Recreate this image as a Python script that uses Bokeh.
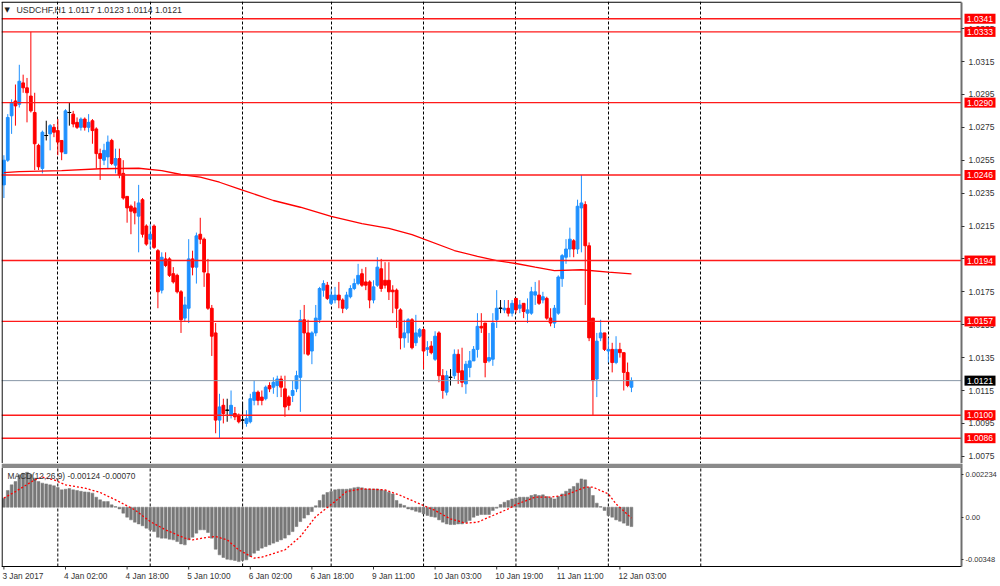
from bokeh.plotting import figure
from bokeh.models import Range1d, FixedTicker, Label, PrintfTickFormatter, BoxAnnotation
from bokeh.layouts import column
from bokeh.embed import file_html
from bokeh.resources import INLINE
from bokeh.core.properties import value

symbol = "USDCHF,H1"

opens = [1.0240,1.0255,1.0282,1.0291,1.0289,1.0302,1.0299,1.0294,1.0284,1.0264,
         1.0250,1.0270,1.0271,1.0275,1.0273,1.0267,1.0259,1.0284,1.0283,1.0278,
         1.0275,1.0280,1.0275,1.0279,1.0274,1.0259,1.0255,1.0257,1.0267,1.0252,
         1.0256,1.0247,1.0233,1.0227,1.0226,1.0221,1.0231,1.0215,1.0207,1.0215,
         1.0200,1.0176,1.0195,1.0195,1.0186,1.0185,1.0175,1.0159,1.0165,1.0195,
         1.0190,1.0210,1.0207,1.0186,1.0165,1.0150,1.0097,1.0106,1.0103,1.0100,
         1.0101,1.0100,1.0097,1.0095,1.0096,1.0109,1.0114,1.0111,1.0110,1.0118,
         1.0117,1.0118,1.0122,1.0116,1.0111,1.0112,1.0116,1.0123,1.0158,1.0150,
         1.0139,1.0150,1.0158,1.0176,1.0179,1.0168,1.0170,1.0173,1.0170,1.0165,
         1.0172,1.0177,1.0180,1.0186,1.0181,1.0181,1.0170,1.0179,1.0189,1.0182,
         1.0182,1.0176,1.0176,1.0164,1.0147,1.0150,1.0158,1.0144,1.0148,1.0152,
         1.0140,1.0142,1.0134,1.0150,1.0124,1.0114,1.0123,1.0124,1.0137,1.0127,
         1.0119,1.0129,1.0133,1.0140,1.0154,1.0156,1.0133,1.0134,1.0158,1.0165,
         1.0164,1.0165,1.0162,1.0171,1.0165,1.0168,1.0162,1.0162,1.0173,1.0173,
         1.0170,1.0171,1.0159,1.0156,1.0162,1.0183,1.0196,1.0201,1.0206,1.0201,
         1.0226,1.0228,1.0203,1.0159,1.0122,1.0147,1.0150,1.0139,1.0140,1.0132,
         1.0140,1.0138,1.0126,1.0117]
highs = [1.0258,1.0283,1.0292,1.0301,1.0313,1.0307,1.0305,1.0333,1.0296,1.0265,
         1.0273,1.0279,1.0277,1.0277,1.0280,1.0267,1.0286,1.0290,1.0285,1.0281,
         1.0281,1.0281,1.0283,1.0280,1.0275,1.0262,1.0265,1.0270,1.0268,1.0262,
         1.0262,1.0255,1.0233,1.0228,1.0230,1.0240,1.0232,1.0216,1.0216,1.0216,
         1.0201,1.0199,1.0199,1.0196,1.0190,1.0186,1.0176,1.0172,1.0207,1.0200,
         1.0211,1.0220,1.0208,1.0195,1.0167,1.0156,1.0113,1.0110,1.0110,1.0115,
         1.0105,1.0101,1.0108,1.0103,1.0113,1.0121,1.0115,1.0115,1.0118,1.0120,
         1.0123,1.0124,1.0124,1.0124,1.0112,1.0121,1.0127,1.0164,1.0167,1.0158,
         1.0151,1.0167,1.0178,1.0182,1.0181,1.0177,1.0178,1.0181,1.0171,1.0175,
         1.0179,1.0183,1.0192,1.0189,1.0190,1.0182,1.0182,1.0196,1.0195,1.0193,
         1.0193,1.0179,1.0177,1.0165,1.0158,1.0159,1.0159,1.0161,1.0153,1.0153,
         1.0145,1.0145,1.0151,1.0151,1.0128,1.0127,1.0128,1.0140,1.0140,1.0141,
         1.0133,1.0139,1.0142,1.0162,1.0162,1.0156,1.0150,1.0162,1.0176,1.0170,
         1.0170,1.0170,1.0170,1.0171,1.0170,1.0168,1.0171,1.0178,1.0181,1.0182,
         1.0175,1.0172,1.0165,1.0167,1.0185,1.0198,1.0207,1.0214,1.0207,1.0231,
         1.0246,1.0230,1.0205,1.0159,1.0150,1.0158,1.0150,1.0147,1.0144,1.0148,
         1.0144,1.0138,1.0132,1.0123]
lows = [1.0232,1.0254,1.0271,1.0276,1.0287,1.0296,1.0278,1.0284,1.0249,1.0249,
        1.0247,1.0267,1.0261,1.0269,1.0258,1.0255,1.0259,1.0276,1.0275,1.0274,
        1.0273,1.0273,1.0272,1.0265,1.0250,1.0243,1.0252,1.0250,1.0252,1.0247,
        1.0244,1.0231,1.0217,1.0210,1.0216,1.0199,1.0208,1.0203,1.0201,1.0201,
        1.0165,1.0174,1.0190,1.0184,1.0180,1.0174,1.0150,1.0157,1.0156,1.0185,
        1.0180,1.0204,1.0178,1.0164,1.0136,1.0089,1.0086,1.0095,1.0096,1.0098,
        1.0097,1.0095,1.0092,1.0093,1.0095,1.0106,1.0106,1.0106,1.0109,1.0114,
        1.0113,1.0111,1.0111,1.0099,1.0103,1.0108,1.0114,1.0102,1.0137,1.0136,
        1.0131,1.0148,1.0156,1.0172,1.0170,1.0167,1.0168,1.0165,1.0162,1.0164,
        1.0171,1.0176,1.0179,1.0178,1.0176,1.0165,1.0168,1.0178,1.0175,1.0177,
        1.0170,1.0162,1.0153,1.0140,1.0141,1.0144,1.0140,1.0142,1.0147,1.0128,
        1.0136,1.0137,1.0133,1.0120,1.0110,1.0112,1.0118,1.0122,1.0119,1.0117,
        1.0113,1.0123,1.0133,1.0135,1.0150,1.0123,1.0132,1.0130,1.0153,1.0162,
        1.0162,1.0160,1.0160,1.0162,1.0162,1.0159,1.0156,1.0161,1.0167,1.0167,
        1.0168,1.0158,1.0154,1.0153,1.0161,1.0178,1.0192,1.0196,1.0196,1.0198,
        1.0199,1.0167,1.0145,1.0100,1.0111,1.0145,1.0139,1.0132,1.0126,1.0131,
        1.0135,1.0115,1.0117,1.0114]
closes = [1.0255,1.0281,1.0290,1.0288,1.0303,1.0299,1.0296,1.0285,1.0265,1.0251,
          1.0272,1.0270,1.0276,1.0272,1.0266,1.0260,1.0285,1.0284,1.0277,1.0275,
          1.0280,1.0275,1.0278,1.0273,1.0259,1.0256,1.0261,1.0266,1.0253,1.0256,
          1.0246,1.0232,1.0226,1.0224,1.0223,1.0229,1.0210,1.0204,1.0210,1.0202,
          1.0175,1.0196,1.0191,1.0185,1.0181,1.0175,1.0158,1.0167,1.0195,1.0190,
          1.0209,1.0207,1.0187,1.0165,1.0148,1.0097,1.0105,1.0101,1.0103,1.0106,
          1.0099,1.0096,1.0097,1.0098,1.0110,1.0114,1.0109,1.0109,1.0117,1.0116,
          1.0120,1.0122,1.0117,1.0105,1.0106,1.0115,1.0124,1.0158,1.0150,1.0137,
          1.0150,1.0159,1.0177,1.0180,1.0171,1.0173,1.0173,1.0170,1.0165,1.0173,
          1.0177,1.0180,1.0185,1.0179,1.0179,1.0170,1.0178,1.0190,1.0177,1.0179,
          1.0175,1.0175,1.0165,1.0147,1.0150,1.0158,1.0141,1.0150,1.0152,1.0139,
          1.0141,1.0138,1.0148,1.0124,1.0115,1.0124,1.0123,1.0137,1.0126,1.0120,
          1.0131,1.0133,1.0140,1.0154,1.0153,1.0132,1.0135,1.0156,1.0165,1.0165,
          1.0165,1.0162,1.0168,1.0164,1.0167,1.0163,1.0164,1.0175,1.0175,1.0168,
          1.0172,1.0159,1.0156,1.0165,1.0184,1.0197,1.0201,1.0207,1.0201,1.0227,
          1.0229,1.0203,1.0147,1.0121,1.0145,1.0150,1.0140,1.0140,1.0132,1.0140,
          1.0138,1.0126,1.0118,1.0121]

ma_bars = [0, 4, 15, 25, 35, 41, 46, 51, 56, 61, 70, 77, 85, 93, 100, 106,
           117, 123, 128, 133, 138, 143, 150, 157, 163]
ma_values = [1.02475, 1.02481, 1.02487, 1.02498, 1.02501, 1.02487, 1.02463,
             1.02447, 1.02416, 1.02376, 1.02305, 1.02264, 1.02208, 1.02165,
             1.02135, 1.02098, 1.02001, 1.01966, 1.01940, 1.01922, 1.01900,
             1.01879, 1.01884, 1.01869, 1.01859]

level_prices = [1.0341, 1.0333, 1.0290, 1.0246, 1.0194, 1.0157, 1.0100, 1.0086]
current_price = 1.0121
price_ticks = [1.0075, 1.0095, 1.0115, 1.0135, 1.0155, 1.0175, 1.0195,
               1.0215, 1.0235, 1.0255, 1.0275, 1.0295, 1.0315, 1.0335]

macd_hist = [0.00058,0.00107,0.00143,0.00164,0.00207,0.00217,0.002234,0.00210,0.00186,0.00164,
             0.00154,0.00149,0.00143,0.00137,0.00126,0.00111,0.00115,0.00119,0.00111,0.00107,
             0.00102,0.00098,0.00096,0.00090,0.00064,0.00047,0.00036,0.00036,0.00015,0.00004,
             -0.00011,-0.00038,-0.00064,-0.00081,-0.00096,-0.00107,-0.00119,-0.00134,-0.00145,-0.00156,
             -0.00192,-0.00198,-0.00198,-0.00205,-0.00209,-0.00220,-0.00235,-0.00241,-0.00209,-0.00192,
             -0.00166,-0.00145,-0.00145,-0.00162,-0.00198,-0.00269,-0.00305,-0.00322,-0.00333,-0.00337,
             -0.00341,-0.00348,-0.00341,-0.00337,-0.00316,-0.00294,-0.00277,-0.00262,-0.00252,-0.00241,
             -0.00230,-0.00220,-0.00209,-0.00198,-0.00177,-0.00156,-0.00124,-0.00092,-0.00070,-0.00049,
             -0.00028,0.00009,0.00043,0.00079,0.00094,0.00100,0.00111,0.00115,0.00115,0.00115,
             0.00118,0.00124,0.00128,0.00124,0.00117,0.00117,0.00117,0.00117,0.00111,0.00107,
             0.00096,0.00085,0.00043,0.00021,0.00011,-0.00011,-0.00017,-0.00026,-0.00032,-0.00043,
             -0.00053,-0.00060,-0.00064,-0.00081,-0.00096,-0.00107,-0.00111,-0.00111,-0.00107,-0.00107,
             -0.00098,-0.00085,-0.00064,-0.00053,-0.00047,-0.00047,-0.00047,-0.00021,-0.00006,0.00017,
             0.00032,0.00043,0.00053,0.00058,0.00064,0.00064,0.00064,0.00075,0.00081,0.00075,
             0.00079,0.00068,0.00060,0.00053,0.00068,0.00085,0.00102,0.00117,0.00132,0.00154,
             0.00181,0.00175,0.00128,0.00075,0.00026,0.00004,-0.00021,-0.00053,-0.00064,-0.00081,
             -0.00090,-0.00102,-0.00117,-0.00124]
signal_bars = [0, 3, 8, 10, 13, 16, 21, 25, 29, 34, 38, 42, 47, 49, 53, 55, 58, 61, 65,
               67, 73, 77, 81, 86, 89, 93, 99, 103, 107, 112, 116, 120, 123, 126, 131,
               133, 138, 142, 146, 151, 153, 157, 159, 163]
signal_values = [0.00058, 0.00100, 0.00175, 0.00192, 0.00175, 0.00143, 0.00122, 0.00094,
                 0.00047, -0.00017, -0.00092, -0.00145, -0.00198, -0.00209, -0.00192,
                 -0.00188, -0.00209, -0.00273, -0.00326, -0.00320, -0.00273, -0.00188,
                 -0.00060, 0.00036, 0.00100, 0.00117, 0.00111, 0.00075, 0.00032, -0.00021,
                 -0.00075, -0.00102, -0.00096, -0.00064, -0.00011, 0.00017, 0.00064,
                 0.00064, 0.00079, 0.00128, 0.00128, 0.00085, 0.00021, -0.00070]
macd_max = 0.002234
macd_min = -0.00348
macd_tick_labels = ["0.002234", "0.00", "-0.00348"]

time_tick_bars = [0, 16, 32, 48, 64, 80, 96, 112, 128, 144, 160]
time_tick_labels = ["3 Jan 2017", "4 Jan 02:00", "4 Jan 18:00", "5 Jan 10:00",
                    "6 Jan 02:00", "6 Jan 18:00", "9 Jan 11:00", "10 Jan 03:00",
                    "10 Jan 19:00", "11 Jan 11:00", "12 Jan 03:00"]
day_start_bars = [14, 38, 62, 85, 109, 133, 157, 181]

# ----------------------------- layout geometry -----------------------------
FONT = "Liberation Sans"
W = 1000
FW = W - 1                 # frame width (1px left border)
MAIN_FH = 462              # main frame height (page y 1..463)
MACD_FH = 123              # macd frame (page y 463..586)
PX_BAR = 3.85              # px per bar
BAR0 = 2.4                 # frame px of bar 0


def fx(px):                # frame px -> bar units
    return (px - BAR0) / PX_BAR


def py(page_y):            # page y -> price (main panel scale)
    return 1.0315 - (page_y - 61) / 16450.0


def my_(page_y):           # page y -> macd value (macd panel scale)
    return (506.7 - page_y) / 15628.0


AXIS_X = fx(960)           # price axis line position
x_range = Range1d(fx(0), fx(FW))

BULL, BEAR, DOJI = "#1e90ff", "#ff0000", "#000000"
bars = list(range(len(opens)))
colors = [BULL if c > o else (BEAR if c < o else DOJI) for o, c in zip(opens, closes)]
tops = [max(o, c) for o, c in zip(opens, closes)]
bottoms = [min(o, c) for o, c in zip(opens, closes)]
doji_idx = [i for i in bars if opens[i] == closes[i]]

# ------------------------------- main panel --------------------------------
main = figure(frame_width=FW, frame_height=MAIN_FH, x_range=x_range,
              y_range=Range1d(py(463), py(1)), output_backend="svg",
              toolbar_location=None, tools="", x_axis_location=None,
              y_axis_location="right", min_border_left=1, min_border_right=0,
              min_border_top=1, min_border_bottom=0, outline_line_color=None,
              border_fill_color="white", background_fill_color="white")
main.xgrid.visible = False
main.ygrid.visible = False

main.vspan(x=day_start_bars, line_color="black", line_dash="3 2", line_width=1)
main.segment(x0=bars, y0=lows, x1=bars, y1=highs, line_color=colors, line_width=1)
main.vbar(x=bars, width=0.72, top=tops, bottom=bottoms, fill_color=colors,
          line_color=colors, line_width=1)
main.segment(x0=[i - 0.5 for i in doji_idx], y0=[opens[i] for i in doji_idx],
             x1=[i + 0.5 for i in doji_idx], y1=[opens[i] for i in doji_idx],
             line_color=DOJI, line_width=1)
main.line(ma_bars, ma_values, line_color="#ff0000", line_width=1.3)
main.segment(x0=[x_range.start] * len(level_prices), y0=level_prices,
             x1=[AXIS_X] * len(level_prices), y1=level_prices,
             line_color="#ff1a1a", line_width=1.4)
main.segment(x0=[x_range.start], y0=[current_price], x1=[AXIS_X], y1=[current_price],
             line_color="#8796a6", line_width=1)
# frame border (left + top)
main.segment(x0=[x_range.start + 0.15, x_range.start], y0=[py(463), py(1.6)],
             x1=[x_range.start + 0.15, AXIS_X], y1=[py(1.6), py(1.6)],
             line_color="black", line_width=1.2)

ya = main.yaxis[0]
ya.fixed_location = AXIS_X
ya.bounds = (py(463), py(1.6))
ya.ticker = FixedTicker(ticks=price_ticks)
ya.formatter = PrintfTickFormatter(format="%.4f")
ya.axis_line_color = "#6e6e6e"
ya.axis_line_width = 2
ya.major_tick_out = 3
ya.major_tick_in = 0
ya.minor_tick_out = 0
ya.minor_tick_in = 0
ya.major_tick_line_color = "#333333"
ya.major_label_standoff = 4
ya.major_label_text_font = FONT
ya.major_label_text_font_size = "8.5px"
ya.major_label_text_color = "#333333"

# price boxes on the axis
box_prices = level_prices + [current_price]
box_colors = ["#ff0000"] * len(level_prices) + ["#000000"]
rb = main.rect(x=[AXIS_X + 18.5 / PX_BAR] * len(box_prices), y=box_prices,
               width=31, height=10, width_units="screen", height_units="screen",
               fill_color=box_colors, line_color=None)
rb.level = "overlay"
tb = main.text(x=[AXIS_X + 5.5 / PX_BAR] * len(box_prices), y=box_prices,
               text=[f"{p:.4f}" for p in box_prices], text_color="white",
               text_font=value(FONT), text_font_size="8.5px", text_align="left",
               text_baseline="middle")
tb.level = "overlay"

main.add_layout(Label(x=3, y=MAIN_FH - 8, x_units="screen", y_units="screen",
                      text="\u25bc", text_font="DejaVu Sans", text_font_size="7px",
                      text_color="#202020", text_baseline="middle"))
main.add_layout(Label(x=15, y=MAIN_FH - 8, x_units="screen", y_units="screen",
                      text=f"{symbol}  {opens[-1]:.4f} {highs[-1]:.4f} {lows[-1]:.4f} {closes[-1]:.4f}",
                      text_font=FONT, text_font_size="8.8px", text_color="#303030",
                      text_baseline="middle"))

# ------------------------------- MACD panel --------------------------------
MB = my_(566)               # panel bottom value
macd = figure(frame_width=FW, frame_height=MACD_FH, x_range=x_range,
              y_range=Range1d(my_(586), my_(463)), output_backend="svg",
              toolbar_location=None, tools="", x_axis_location=None,
              y_axis_location="right", min_border_left=1, min_border_right=0,
              min_border_top=0, min_border_bottom=0, outline_line_color=None,
              border_fill_color="white", background_fill_color="white")
macd.xgrid.visible = False
macd.ygrid.visible = False

macd.add_layout(BoxAnnotation(left=x_range.start, right=AXIS_X, top=my_(463),
                              bottom=my_(467.5), fill_color="#8a8a8a", fill_alpha=1.0,
                              line_color=None))
macd.segment(x0=day_start_bars, y0=[MB] * len(day_start_bars),
             x1=day_start_bars, y1=[my_(467.5)] * len(day_start_bars),
             line_color="black", line_dash="3 2", line_width=1)
macd.vbar(x=bars, width=0.72, top=macd_hist, bottom=0, fill_color="#787878",
          line_color="#787878", line_width=0.5)
macd.line(signal_bars, signal_values, line_color="#ff0000", line_width=1.3,
          line_dash="2 2")
# panel border (left + bottom)
macd.segment(x0=[x_range.start + 0.15, x_range.start], y0=[MB, MB],
             x1=[x_range.start + 0.15, AXIS_X], y1=[my_(467.5), MB],
             line_color="black", line_width=1.2)
# time axis ticks and labels
macd.segment(x0=time_tick_bars, y0=[MB] * len(time_tick_bars),
             x1=time_tick_bars, y1=[my_(569)] * len(time_tick_bars),
             line_color="#333333", line_width=1)
macd.text(x=time_tick_bars, y=[my_(575.5)] * len(time_tick_bars), text=time_tick_labels,
          x_offset=-1.5, text_font=value(FONT), text_font_size="8.3px",
          text_color="#333333", text_align="left", text_baseline="middle")

my = macd.yaxis[0]
my.fixed_location = AXIS_X
my.bounds = (MB, my_(463))
my.ticker = FixedTicker(ticks=[my_(473.5), my_(517), my_(559)])
my.major_label_overrides = {t: s for t, s in
                            zip([my_(473.5), my_(517), my_(559)], macd_tick_labels)}
my.axis_line_color = "#6e6e6e"
my.axis_line_width = 2
my.major_tick_out = 2
my.major_tick_in = 0
my.minor_tick_out = 0
my.minor_tick_in = 0
my.major_tick_line_color = "#333333"
my.major_label_standoff = 2
my.major_label_text_font = FONT
my.major_label_text_font_size = "7.5px"
my.major_label_text_color = "#333333"

macd.add_layout(Label(x=6, y=MACD_FH - 12, x_units="screen", y_units="screen",
                      text=f"MACD(12,26,9) {macd_hist[-1]:.5f} {signal_values[-1]:.5f}",
                      text_font=FONT, text_font_size="8.3px", text_color="#303030",
                      text_baseline="middle"))

layout = column(main, macd, spacing=0)
open("out.html", "w").write(file_html(layout, INLINE))
